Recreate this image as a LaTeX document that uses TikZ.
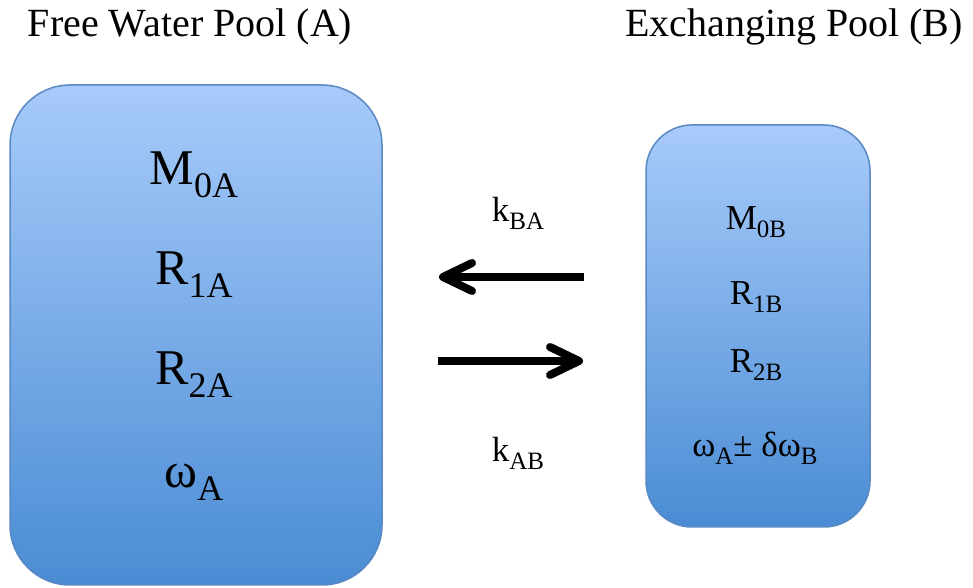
\documentclass[tikz,border=0pt]{standalone}
\usepackage{fontspec}
\setmainfont{Liberation Serif}
\usetikzlibrary{arrows.meta}

\definecolor{pooltop}{HTML}{A7CBFA}
\definecolor{poolbot}{HTML}{4A8CD4}
\definecolor{poolline}{HTML}{5A88C2}

% symbol with a lowered subscript, large (pool A) and small (pool B, rates)
\newcommand\symA[2]{#1\raisebox{-13pt}{\fontsize{36}{36}\selectfont #2}}
\newcommand\symB[2]{#1\raisebox{-8pt}{\fontsize{25}{25}\selectfont #2}}

\tikzset{
  pool/.style={draw=poolline, line width=1.5pt, rounded corners=#1,
    top color=pooltop, bottom color=poolbot, inner sep=0pt},
  title/.style={anchor=base, inner sep=0pt, font=\fontsize{40}{40}\selectfont},
  bigsym/.style={anchor=base, inner sep=0pt, font=\fontsize{50}{50}\selectfont},
  smallsym/.style={anchor=base, inner sep=0pt, font=\fontsize{35}{35}\selectfont},
  flux/.style={line width=8pt, -{Straight Barb[length=29pt, width=28pt, round]}},
}

\begin{document}
\begin{tikzpicture}[x=1pt, y=1pt]
  \useasboundingbox (0,0) rectangle (973,588);

  % headings
  \node[title] (ta) at (190,551) {Free Water Pool (A)};
  \node[title] (tb) at (794,551) {Exchanging Pool (B)};

  % the two pools
  \node[pool=60pt, minimum width=372pt, minimum height=500pt] (A) at (196,253) {};
  \node[pool=46pt, minimum width=224pt, minimum height=402pt] (B) at (758,262) {};

  % parameters of pool A
  \node[bigsym] (m0a) at (194,403) {\symA{M}{0A}};
  \node[bigsym] (r1a) at (194,303) {\symA{R}{1A}};
  \node[bigsym] (r2a) at (194,203) {\symA{R}{2A}};
  \node[bigsym] (wa)  at (194,100) {\symA{ω}{A}};

  % parameters of pool B
  \node[smallsym] (m0b) at (756,358) {\symB{M}{0B}};
  \node[smallsym] (r1b) at (756,283) {\symB{R}{1B}};
  \node[smallsym] (r2b) at (756,215) {\symB{R}{2B}};
  \node[smallsym] (wb)  at (755,131) {\symB{ω}{A}± δ\symB{ω}{B}};

  % exchange rates
  \node[smallsym] (kba) at (518,366) {\symB{k}{BA}};
  \node[smallsym] (kab) at (518,126) {\symB{k}{AB}};

  % exchange arrows
  \coordinate (ba1) at (584,311);
  \coordinate (ba2) at (439,311);
  \coordinate (ab1) at (438,227);
  \coordinate (ab2) at (583,227);
  \draw[flux] (ba1) -- (ba2);
  \draw[flux] (ab1) -- (ab2);
\end{tikzpicture}
\end{document}
